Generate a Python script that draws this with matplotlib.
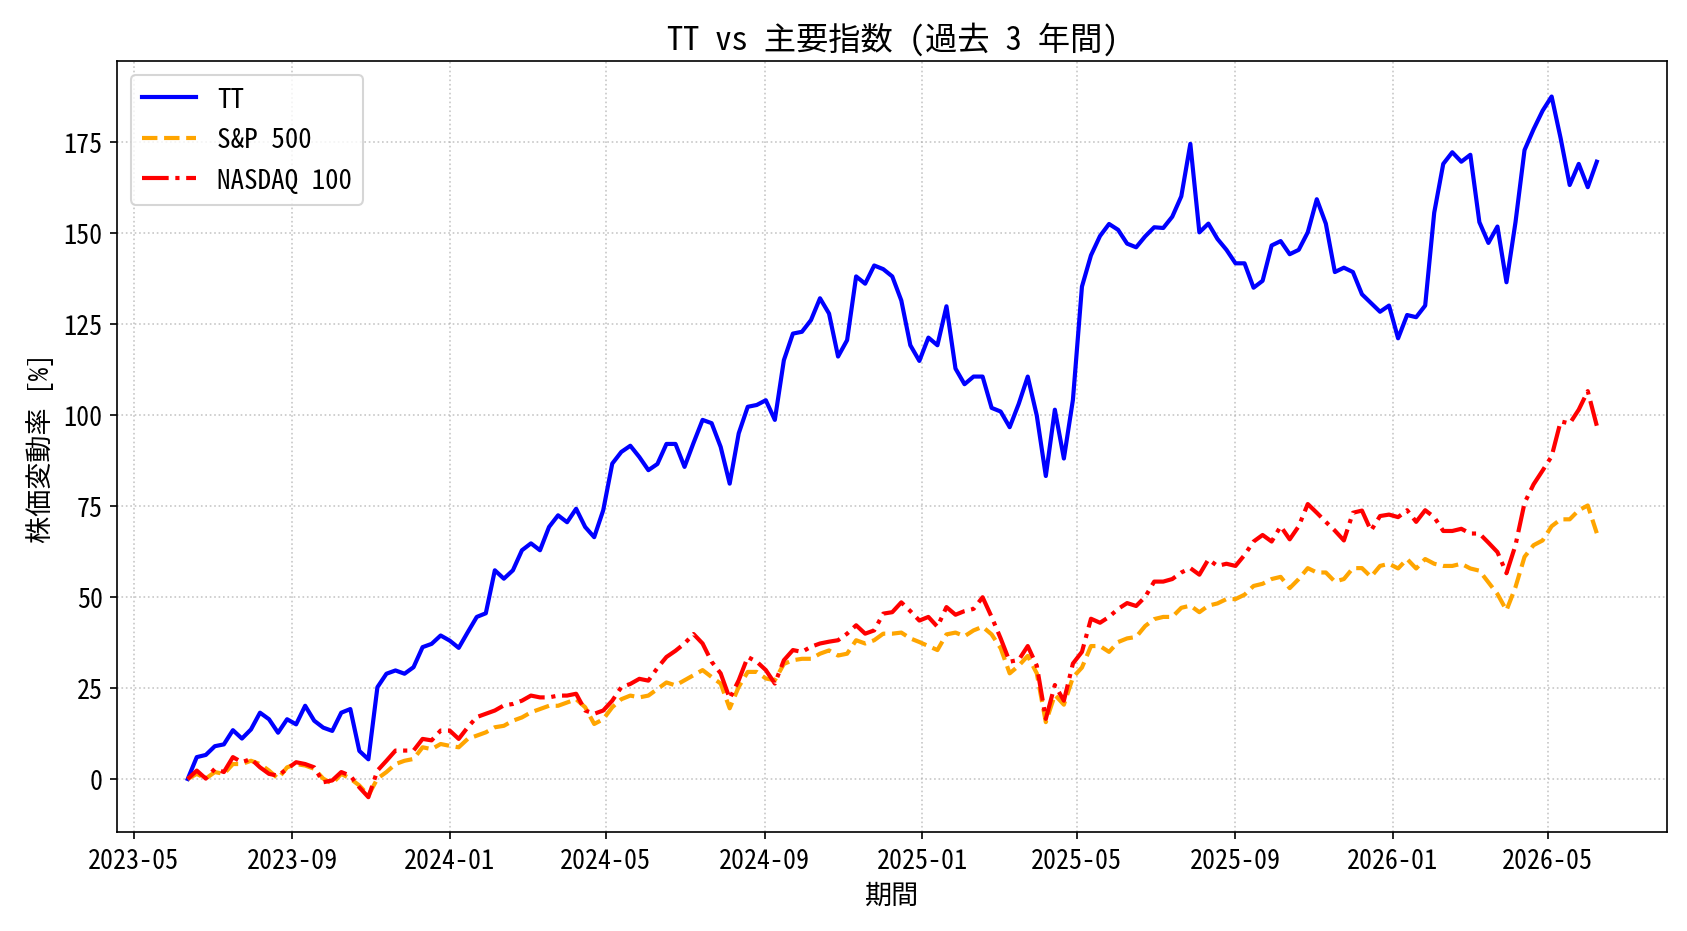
import matplotlib
matplotlib.use("Agg")
import matplotlib.pyplot as plt
import matplotlib.dates as mdates
import pandas as pd

# weekly closes, % change since start
start_date = "2023-06-12"
n_weeks = 157

tt = [0, 6.0, 6.6, 9.0, 9.5, 13.4, 11.1, 13.6, 18.2, 16.4, 12.7, 16.4, 15.0, 20.1, 16.0, 14.1,
      13.2, 18.2, 19.2, 7.7, 5.4, 25.2, 28.9, 29.8, 28.9, 30.7, 36.2, 37.1, 39.4, 38.0, 36.0,
      40.3, 44.5, 45.5, 57.3, 55.0, 57.3, 62.8, 64.7, 62.8, 69.2, 72.4, 70.5, 74.2, 69.2, 66.4,
      73.8, 86.6, 89.8, 91.5, 88.4, 84.8, 86.5, 92.0, 92.0, 85.7, 92.3, 98.6, 97.7, 91.2, 81.1,
      94.9, 102.2, 102.7, 104.0, 98.6, 115.0, 122.3, 122.8, 126.0, 132.0, 127.8, 116.0, 120.5,
      138.0, 136.0, 141.0, 140.0, 138.0, 131.4, 119.1, 114.8, 121.2, 119.1, 129.8, 112.7, 108.4,
      110.5, 110.5, 101.9, 100.9, 96.6, 103.0, 110.5, 99.8, 83.2, 101.4, 88.0, 104.1, 135.2,
      143.8, 149.1, 152.4, 150.8, 147.0, 146.0, 149.0, 151.5, 151.3, 154.4, 160.0, 174.4, 150.1,
      152.5, 148.3, 145.3, 141.6, 141.6, 134.9, 136.8, 146.5, 147.7, 144.1, 145.3, 150.1, 159.2,
      152.5, 139.2, 140.4, 139.2, 133.1, 130.7, 128.3, 130.0, 121.0, 127.4, 126.8, 130.0, 155.5,
      168.9, 172.1, 169.5, 171.4, 152.9, 147.2, 151.7, 136.4, 152.9, 172.7, 178.4, 183.5, 187.4,
      175.9, 163.1, 168.9, 162.5, 169.5]

sp500 = [0, 1.4, 0.1, 1.9, 1.4, 4.1, 4.1, 5.0, 4.1, 2.3, 0.1, 3.2, 4.1, 3.7, 2.8, 0.1, -1.3,
         1.4, 0.1, -1.8, -4.5, 0.1, 1.9, 4.1, 5.0, 5.5, 8.7, 8.2, 9.6, 9.1, 8.7, 11.0, 11.9, 12.8,
         14.2, 14.6, 16.0, 16.9, 18.3, 19.2, 20.1, 20.1, 21.0, 21.9, 19.7, 15.1, 16.4, 19.7, 21.9,
         22.9, 22.4, 22.9, 24.7, 26.5, 25.7, 27.1, 28.5, 29.9, 28.0, 26.2, 19.4, 25.3, 29.4, 29.4,
         27.6, 27.1, 31.6, 32.6, 33.0, 33.0, 34.4, 35.3, 33.9, 34.4, 38.1, 37.2, 38.1, 39.9, 39.9,
         40.2, 38.6, 37.6, 36.5, 35.4, 39.7, 40.2, 39.2, 40.8, 41.8, 39.7, 35.9, 29.0, 31.1, 33.8,
         29.0, 15.6, 23.1, 20.4, 27.9, 30.6, 36.5, 36.5, 34.9, 37.6, 38.6, 39.0, 42.0, 43.9, 44.5,
         44.5, 47.0, 47.6, 45.8, 47.6, 48.2, 49.4, 49.4, 50.6, 53.0, 53.6, 54.9, 55.5, 52.4, 54.9,
         57.9, 56.7, 56.7, 54.2, 54.9, 57.9, 57.9, 55.5, 58.5, 59.1, 57.8, 60.4, 57.8, 60.4, 59.1,
         58.5, 58.5, 59.1, 57.8, 57.2, 54.0, 50.8, 46.3, 52.7, 61.0, 64.2, 65.5, 69.4, 71.3, 71.3,
         73.8, 75.1, 67.5]

nasdaq100 = [0, 2.3, 0.1, 2.8, 1.9, 6.0, 4.6, 5.5, 3.2, 1.4, 0.9, 2.8, 4.6, 4.1, 3.2, -0.9, -0.4,
             1.9, 0.9, -2.3, -5.0, 2.3, 5.0, 7.8, 7.8, 7.8, 11.0, 10.6, 13.3, 13.3, 11.0, 14.2,
             17.0, 17.9, 18.8, 20.2, 20.6, 21.5, 22.9, 22.4, 22.4, 22.9, 22.9, 23.4, 18.8, 17.9,
             18.8, 21.5, 25.2, 26.1, 27.5, 27.0, 30.5, 33.5, 35.2, 37.2, 39.8, 37.2, 32.2, 29.0,
             22.1, 27.1, 33.5, 32.2, 29.9, 26.2, 32.6, 35.4, 34.9, 36.3, 37.2, 37.7, 38.1, 39.9,
             42.2, 39.9, 40.8, 45.4, 45.8, 48.5, 46.1, 43.5, 44.5, 41.8, 47.2, 45.1, 46.1, 46.7,
             49.9, 44.5, 38.6, 32.2, 32.7, 36.5, 31.1, 16.5, 25.8, 21.5, 31.7, 34.9, 44.0, 42.9,
             44.5, 46.7, 48.3, 47.5, 50.0, 54.2, 54.2, 54.9, 56.7, 57.9, 56.1, 60.3, 58.5, 59.1,
             58.5, 61.5, 65.2, 67.0, 65.2, 69.4, 65.8, 69.4, 75.5, 73.1, 70.6, 68.2, 65.5, 73.1,
             73.7, 68.2, 72.2, 72.6, 71.9, 73.8, 70.6, 73.8, 71.9, 68.1, 68.1, 68.7, 67.4, 67.4,
             64.9, 62.3, 56.5, 64.2, 75.8, 80.9, 84.7, 88.6, 98.2, 97.6, 101.4, 106.5, 97.0]

dates = pd.date_range(start_date, periods=n_weeks, freq="7D")

plt.rcParams['font.family'] = ['Noto Sans Mono CJK JP', 'Noto Sans CJK JP', 'DejaVu Sans']
plt.rcParams['font.size'] = 12.5

fig, ax = plt.subplots(figsize=(11.25, 6.213), dpi=150)
ax.plot(dates, tt, color='blue', linestyle='-', linewidth=2, label='TT')
ax.plot(dates, sp500, color='orange', linestyle='--', linewidth=2, label='S&P 500')
ax.plot(dates, nasdaq100, color='red', linestyle='-.', linewidth=2, label='NASDAQ 100')

ax.xaxis.set_major_locator(mdates.MonthLocator(bymonth=(1, 5, 9)))
ax.xaxis.set_major_formatter(mdates.DateFormatter('%Y-%m'))

ax.set_title('TT vs 主要指数 (過去 3 年間)', fontsize=15.5)
ax.set_xlabel('期間', fontsize=13)
ax.set_ylabel('株価変動率 [%]', fontsize=13)
ax.grid(True, linestyle=':', alpha=0.7)
ax.legend(loc='upper left', fontsize=13)

fig.subplots_adjust(left=0.0695, right=0.988, top=0.933, bottom=0.106)
fig.savefig('out.png')
